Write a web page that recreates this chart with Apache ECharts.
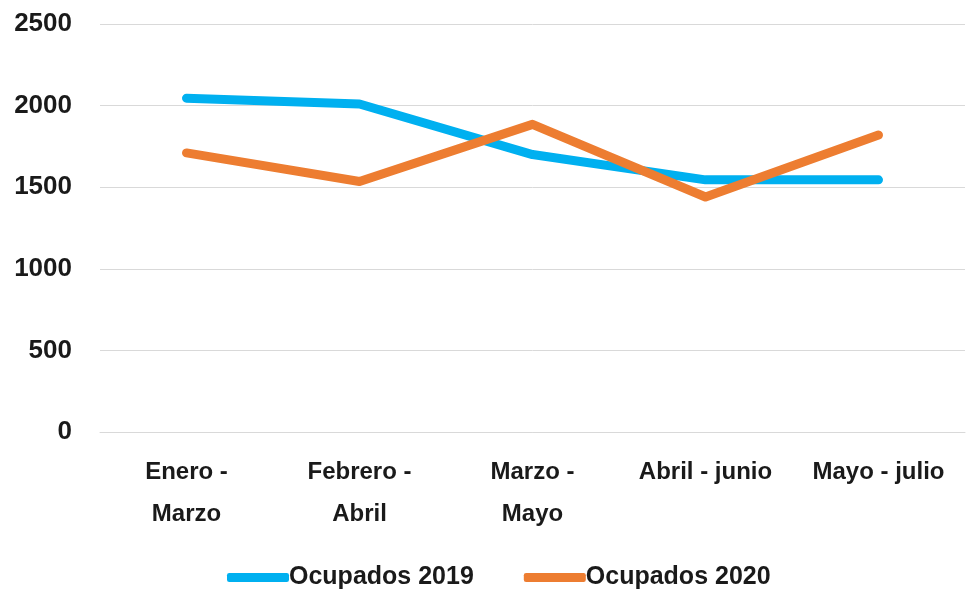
<!DOCTYPE html>
<html><head><meta charset="utf-8">
<script src="https://cdn.jsdelivr.net/npm/echarts@6/dist/echarts.min.js"></script>
<style>html,body{margin:0;padding:0;background:#fff}#c{width:972px;height:595px}</style>
</head><body><div id="c"></div>
<script>
const categories = ['Enero -\nMarzo', 'Febrero -\nAbril', 'Marzo -\nMayo', 'Abril - junio', 'Mayo - julio'];
const ocupados2019 = [2045, 2010, 1700, 1545, 1545];
const ocupados2020 = [1710, 1535, 1885, 1440, 1820];
const yTicks = [0, 500, 1000, 1500, 2000, 2500];

const font = '"Liberation Sans Narrow", "Liberation Sans", sans-serif';
const chart = echarts.init(document.getElementById('c'));
chart.setOption({
  animation: false,
  grid: { left: 100, right: 7, top: 24, bottom: 163, containLabel: false },
  legend: {
    bottom: 0, left: 222, itemWidth: 62, itemHeight: 9, itemGap: 50,
    icon: 'roundRect',
    textStyle: { fontFamily: font, fontWeight: 'bold', fontSize: 25, color: '#1a1a1a', padding: [0,0,0,-5] },
    data: ['Ocupados 2019', 'Ocupados 2020']
  },
  xAxis: {
    type: 'category', data: categories, boundaryGap: true,
    axisLine: { show: true, lineStyle: { color: '#d9d9d9', width: 1 } },
    axisTick: { show: false },
    axisLabel: { fontFamily: font, fontWeight: 'bold', fontSize: 24, color: '#1a1a1a', margin: 19, lineHeight: 42, interval: 0 }
  },
  yAxis: {
    type: 'value', min: 0, max: 2500, interval: 500,
    axisLine: { show: false }, axisTick: { show: false },
    splitLine: { lineStyle: { color: '#d9d9d9', width: 1 } },
    axisLabel: { fontFamily: font, fontWeight: 'bold', fontSize: 26, color: '#1a1a1a', margin: 28,
      formatter: v => yTicks.includes(v) ? String(v) : '' }
  },
  series: [
    { name: 'Ocupados 2019', type: 'line', data: ocupados2019, symbol: 'none',
      itemStyle: { color: '#00b0f0' }, lineStyle: { width: 9, color: '#00b0f0', cap: 'round', join: 'round' } },
    { name: 'Ocupados 2020', type: 'line', data: ocupados2020, symbol: 'none',
      itemStyle: { color: '#ed7d31' }, lineStyle: { width: 9, color: '#ed7d31', cap: 'round', join: 'round' } }
  ]
});
</script></body></html>
